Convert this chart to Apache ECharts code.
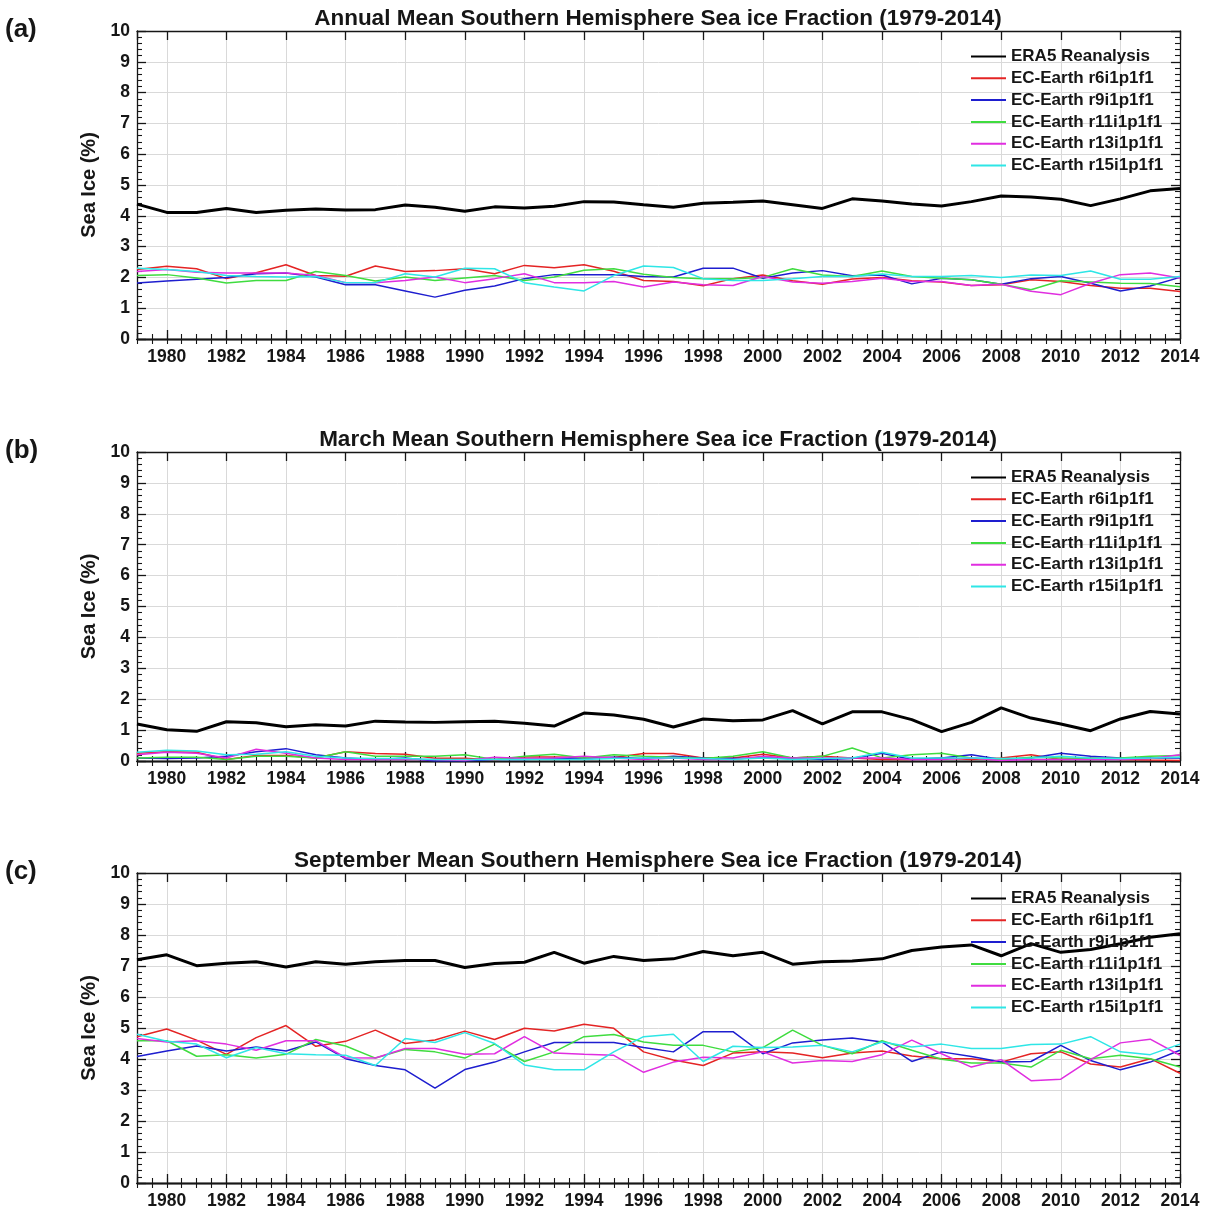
<!DOCTYPE html>
<html>
<head>
<meta charset="utf-8">
<script src="https://cdn.jsdelivr.net/npm/echarts@6/dist/echarts.min.js"></script>
<style>
  html, body { margin: 0; padding: 0; background: #ffffff; }
  #chart { width: 1208px; height: 1212px; }
</style>
</head>
<body>
<div id="chart"></div>
<script>
// Years on the x axis
const years = [1979, 1980, 1981, 1982, 1983, 1984, 1985, 1986, 1987, 1988, 1989, 1990,
  1991, 1992, 1993, 1994, 1995, 1996, 1997, 1998, 1999, 2000, 2001, 2002,
  2003, 2004, 2005, 2006, 2007, 2008, 2009, 2010, 2011, 2012, 2013, 2014];

const seriesNames = ['ERA5 Reanalysis', 'EC-Earth r6i1p1f1', 'EC-Earth r9i1p1f1',
  'EC-Earth r11i1p1f1', 'EC-Earth r13i1p1f1', 'EC-Earth r15i1p1f1'];

const yTickValues = [0, 1, 2, 3, 4, 5, 6, 7, 8, 9, 10];

// Annual mean sea ice fraction (%)
const era5Annual = [4.38, 4.11, 4.11, 4.24, 4.11, 4.18, 4.22, 4.19, 4.20, 4.35, 4.28, 4.15,
  4.29, 4.25, 4.31, 4.46, 4.45, 4.36, 4.28, 4.41, 4.44, 4.48, 4.36, 4.24,
  4.55, 4.48, 4.38, 4.32, 4.46, 4.64, 4.61, 4.54, 4.33, 4.55, 4.81, 4.89];
const r6Annual = [2.26, 2.36, 2.28, 1.96, 2.15, 2.41, 2.06, 2.04, 2.37, 2.19, 2.22, 2.28,
  2.12, 2.39, 2.31, 2.41, 2.20, 1.90, 1.87, 1.73, 1.96, 2.08, 1.89, 1.78,
  1.95, 2.00, 1.89, 1.85, 1.74, 1.76, 1.92, 1.87, 1.74, 1.65, 1.65, 1.54];
const r9Annual = [1.82, 1.88, 1.94, 2.00, 2.12, 2.14, 2.01, 1.76, 1.76, 1.56, 1.36, 1.58,
  1.72, 1.96, 2.09, 2.09, 2.09, 2.03, 2.01, 2.30, 2.30, 1.97, 2.14, 2.22,
  2.05, 2.08, 1.79, 1.97, 1.92, 1.78, 1.96, 2.03, 1.81, 1.56, 1.72, 2.00];
const r11Annual = [2.06, 2.09, 1.98, 1.82, 1.90, 1.90, 2.19, 2.06, 1.88, 2.01, 1.90, 1.98,
  2.06, 1.90, 2.01, 2.23, 2.28, 2.10, 2.00, 1.96, 1.96, 2.00, 2.28, 2.08,
  2.03, 2.21, 2.03, 1.97, 1.92, 1.78, 1.60, 1.89, 1.85, 1.81, 1.80, 1.70];
const r13Annual = [2.19, 2.26, 2.17, 2.14, 2.14, 2.14, 2.06, 1.83, 1.83, 1.90, 2.01, 1.83,
  1.96, 2.12, 1.83, 1.83, 1.87, 1.69, 1.85, 1.76, 1.74, 2.03, 1.85, 1.81,
  1.87, 1.97, 1.87, 1.87, 1.74, 1.78, 1.55, 1.44, 1.81, 2.09, 2.14, 1.98];
const r15Annual = [2.30, 2.26, 2.19, 2.06, 2.03, 2.01, 2.03, 1.83, 1.83, 2.12, 2.01, 2.30,
  2.28, 1.83, 1.69, 1.56, 2.06, 2.37, 2.32, 1.96, 1.90, 1.90, 1.96, 2.03,
  2.03, 2.11, 2.03, 2.03, 2.06, 2.00, 2.08, 2.06, 2.21, 1.94, 1.94, 2.03];

// March mean sea ice fraction (%)
const era5March = [1.20, 1.01, 0.96, 1.27, 1.24, 1.11, 1.17, 1.13, 1.29, 1.26, 1.25, 1.27,
  1.29, 1.22, 1.13, 1.55, 1.49, 1.35, 1.10, 1.36, 1.30, 1.33, 1.63, 1.20,
  1.59, 1.59, 1.34, 0.95, 1.25, 1.72, 1.39, 1.20, 0.98, 1.36, 1.60, 1.52];
const r6March = [0.25, 0.30, 0.28, 0.05, 0.18, 0.18, 0.10, 0.30, 0.24, 0.22, 0.09, 0.09,
  0.03, 0.13, 0.13, 0.11, 0.11, 0.24, 0.24, 0.10, 0.10, 0.22, 0.10, 0.15,
  0.10, 0.05, 0.05, 0.10, 0.05, 0.10, 0.20, 0.05, 0.10, 0.05, 0.03, 0.02];
const r9March = [0.10, 0.08, 0.10, 0.15, 0.30, 0.40, 0.20, 0.10, 0.05, 0.10, 0.00, 0.00,
  0.05, 0.05, 0.08, 0.10, 0.12, 0.08, 0.15, 0.10, 0.08, 0.10, 0.10, 0.05,
  0.08, 0.25, 0.05, 0.10, 0.20, 0.05, 0.10, 0.25, 0.15, 0.10, 0.10, 0.10];
const r11March = [0.10, 0.12, 0.12, 0.05, 0.15, 0.15, 0.10, 0.30, 0.15, 0.15, 0.15, 0.20,
  0.05, 0.15, 0.22, 0.10, 0.20, 0.15, 0.12, 0.08, 0.15, 0.30, 0.10, 0.15,
  0.42, 0.10, 0.20, 0.25, 0.10, 0.05, 0.12, 0.10, 0.08, 0.10, 0.15, 0.18];
const r13March = [0.20, 0.28, 0.25, 0.10, 0.38, 0.25, 0.10, 0.05, 0.05, 0.05, 0.05, 0.02,
  0.12, 0.08, 0.10, 0.15, 0.10, 0.05, 0.10, 0.05, 0.05, 0.15, 0.10, 0.10,
  0.10, 0.10, 0.05, 0.05, 0.10, 0.02, 0.05, 0.05, 0.05, 0.05, 0.08, 0.20];
const r15March = [0.28, 0.35, 0.32, 0.20, 0.22, 0.30, 0.15, 0.10, 0.08, 0.08, 0.05, 0.05,
  0.05, 0.05, 0.05, 0.05, 0.08, 0.10, 0.10, 0.08, 0.05, 0.10, 0.05, 0.08,
  0.10, 0.28, 0.10, 0.10, 0.10, 0.08, 0.10, 0.15, 0.10, 0.08, 0.10, 0.12];

// September mean sea ice fraction (%)
const era5September = [7.20, 7.36, 7.01, 7.09, 7.14, 6.97, 7.14, 7.06, 7.14, 7.18, 7.18, 6.95,
  7.08, 7.12, 7.44, 7.09, 7.31, 7.18, 7.23, 7.47, 7.33, 7.44, 7.06, 7.14,
  7.16, 7.23, 7.50, 7.61, 7.68, 7.33, 7.72, 7.44, 7.53, 7.72, 7.93, 8.04];
const r6September = [4.72, 4.97, 4.61, 4.15, 4.69, 5.08, 4.41, 4.57, 4.93, 4.50, 4.61, 4.90,
  4.63, 4.99, 4.90, 5.12, 4.99, 4.23, 3.97, 3.79, 4.19, 4.23, 4.19, 4.04,
  4.19, 4.26, 4.10, 4.01, 4.01, 3.90, 4.17, 4.23, 3.84, 3.74, 4.01, 3.54];
const r9September = [4.08, 4.26, 4.42, 4.26, 4.39, 4.26, 4.55, 4.01, 3.79, 3.65, 3.06, 3.66,
  3.90, 4.23, 4.53, 4.53, 4.53, 4.37, 4.23, 4.88, 4.88, 4.17, 4.52, 4.61,
  4.68, 4.55, 3.92, 4.23, 4.08, 3.90, 3.92, 4.44, 3.95, 3.65, 3.90, 4.28];
const r11September = [4.59, 4.59, 4.09, 4.14, 4.03, 4.15, 4.63, 4.42, 4.03, 4.31, 4.23, 4.03,
  4.48, 3.92, 4.23, 4.72, 4.79, 4.55, 4.44, 4.44, 4.23, 4.37, 4.93, 4.44,
  4.17, 4.59, 4.28, 3.99, 3.87, 3.87, 3.74, 4.28, 4.01, 4.12, 4.01, 3.74];
const r13September = [4.66, 4.55, 4.59, 4.48, 4.28, 4.59, 4.59, 4.04, 4.03, 4.34, 4.34, 4.15,
  4.17, 4.72, 4.19, 4.15, 4.12, 3.57, 3.90, 4.06, 4.03, 4.23, 3.87, 3.95,
  3.92, 4.14, 4.61, 4.17, 3.74, 3.98, 3.30, 3.35, 3.98, 4.52, 4.64, 4.12];
const r15September = [4.80, 4.57, 4.48, 4.04, 4.37, 4.17, 4.14, 4.12, 3.79, 4.66, 4.53, 4.85,
  4.50, 3.81, 3.65, 3.65, 4.23, 4.72, 4.80, 3.92, 4.41, 4.37, 4.39, 4.44,
  4.23, 4.55, 4.39, 4.48, 4.34, 4.34, 4.47, 4.48, 4.72, 4.23, 4.14, 4.48];

const panels = [
  { tag: '(a)', title: 'Annual Mean Southern Hemisphere Sea ice Fraction (1979-2014)', top: 31, height: 308,
    values: [era5Annual, r6Annual, r9Annual, r11Annual, r13Annual, r15Annual] },
  { tag: '(b)', title: 'March Mean Southern Hemisphere Sea ice Fraction (1979-2014)', top: 452, height: 309,
    values: [era5March, r6March, r9March, r11March, r13March, r15March] },
  { tag: '(c)', title: 'September Mean Southern Hemisphere Sea ice Fraction (1979-2014)', top: 873, height: 310,
    values: [era5September, r6September, r9September, r11September, r13September, r15September] }
];

const colors = ['#000000', '#e42424', '#1e1ecf', '#3fdc3f', '#e02ee0', '#2ee6e6'];
const widths = [3, 1.5, 1.5, 1.5, 1.5, 1.5];

const FONT = '"Liberation Sans", Arial, Helvetica, sans-serif';
const INK = '#161616';
const boxLine = { show: true, lineStyle: { color: INK, width: 1.3 } };
const gridLine = { show: true, lineStyle: { color: '#d9d9d9', width: 1 } };
const tickLong = { show: true, inside: true, length: 9, lineStyle: { color: INK, width: 1.3 } };
const tickShort = { show: true, inside: true, length: 5, lineStyle: { color: INK, width: 1.1 } };

const grid = [], xAxis = [], yAxis = [], series = [], legend = [], title = [];

panels.forEach((p, i) => {
  grid.push({ left: 137, width: 1043, top: p.top, height: p.height, containLabel: false });

  // half-year ticks along bottom and top
  ['bottom', 'top'].forEach((pos) => {
    xAxis.push({
      gridIndex: i, type: 'value', position: pos, min: 1979, max: 2014, interval: 0.5,
      axisLine: boxLine, axisTick: tickShort, axisLabel: { show: false }, splitLine: { show: false }
    });
  });
  // two-year ticks, labels and vertical grid lines
  ['bottom', 'top'].forEach((pos) => {
    xAxis.push({
      gridIndex: i, type: 'value', position: pos, min: 1979, max: 2014,
      minInterval: 2, maxInterval: 2, splitNumber: 17,
      axisLine: boxLine, axisTick: tickLong,
      axisLabel: {
        show: pos === 'bottom', margin: 9,
        fontFamily: FONT, fontSize: 17.5, fontWeight: 'bold', color: INK,
        formatter: (v) => (v % 2 === 0 ? String(v) : '')
      },
      splitLine: pos === 'bottom' ? gridLine : { show: false }
    });
  });

  ['left', 'right'].forEach((pos) => {
    yAxis.push({
      gridIndex: i, type: 'value', position: pos, min: yTickValues[0],
      max: yTickValues[yTickValues.length - 1], interval: 1,
      name: pos === 'left' ? 'Sea Ice (%)' : '',
      nameLocation: 'middle', nameGap: 31, nameRotate: 90,
      nameTextStyle: { fontFamily: FONT, fontSize: 20, fontWeight: 'bold', color: INK },
      axisLine: boxLine, axisTick: tickLong,
      minorTick: { show: true, splitNumber: 5, length: 5, lineStyle: { color: INK, width: 1.1 } },
      axisLabel: {
        show: pos === 'left', margin: 7,
        fontFamily: FONT, fontSize: 17.5, fontWeight: 'bold', color: INK
      },
      splitLine: pos === 'left' ? gridLine : { show: false }
    });
  });

  p.values.forEach((vals, k) => {
    series.push({
      type: 'line', name: seriesNames[k],
      xAxisIndex: i * 4 + 2, yAxisIndex: i * 2,
      data: years.map((yr, j) => [yr, vals[j]]),
      symbol: 'none', showSymbol: false, animation: false, silent: true,
      lineStyle: { color: colors[k], width: widths[k] },
      itemStyle: { color: colors[k] },
      z: 2 + (k === 0 ? 0 : 1)
    });
  });

  legend.push({
    orient: 'vertical', left: 970, top: p.top + 17, padding: 0,
    itemWidth: 35, itemHeight: 14, itemGap: 4.8,
    selectedMode: false,
    itemStyle: { opacity: 0 },
    textStyle: { fontFamily: FONT, fontSize: 17, fontWeight: 'bold', color: INK, lineHeight: 14 },
    data: seriesNames
  });

  title.push({
    text: p.title, left: 658, top: p.top - 24, textAlign: 'center', padding: 0,
    textStyle: { fontFamily: FONT, fontSize: 22.5, fontWeight: 'bold', color: INK }
  });
  title.push({
    text: p.tag, left: 5, top: p.top - 14, padding: 0,
    textStyle: { fontFamily: FONT, fontSize: 26, fontWeight: 'bold', color: INK }
  });
});

const chart = echarts.init(document.getElementById('chart'), null, { renderer: 'canvas' });
chart.setOption({
  backgroundColor: '#ffffff',
  animation: false,
  title, grid, xAxis, yAxis, legend, series
});
</script>
</body>
</html>
